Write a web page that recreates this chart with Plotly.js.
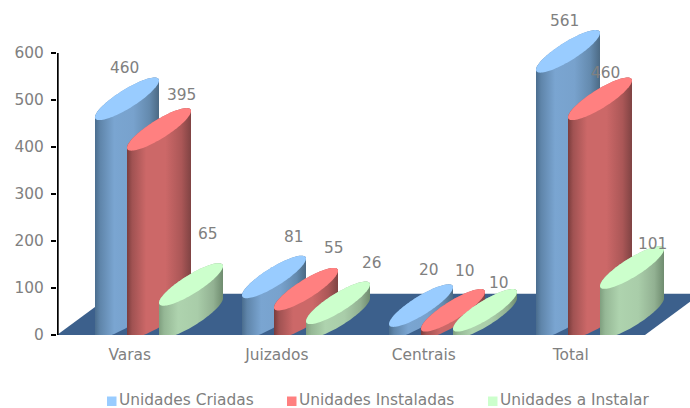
<!DOCTYPE html>
<html><head><meta charset="utf-8">
<script src="https://cdn.plot.ly/plotly-3.0.1.min.js"></script>
<style>html,body{margin:0;padding:0;background:#fff}#c{width:690px;height:408px}</style>
</head><body><div id="c"></div>
<script>
// Data
const categories = ['Varas','Juizados','Centrais','Total'];
const seriesNames = ['Unidades Criadas','Unidades Instaladas','Unidades a Instalar'];
const criadas = [460,81,20,561];
const instaladas = [395,55,10,460];
const aInstalar = [65,26,10,101];
const yTicks = [0,100,200,300,400,500,600];

// Styles
const topColors = ['#99ccff','#ff8080','#ccffcc'];
const bodyScales = [
 [[0,'#4a6d8e'],[.08,'#5f85aa'],[.3,'#7aa5d1'],[.6,'#78a2cd'],[.85,'#648aae'],[1,'#4c6a84']],
 [[0,'#7a3c3c'],[.08,'#a05252'],[.3,'#cc6868'],[.6,'#cc6868'],[.85,'#ab5757'],[1,'#7f4343']],
 [[0,'#7f9f7f'],[.08,'#95b795'],[.3,'#aed3ae'],[.6,'#a9cda9'],[.85,'#92b192'],[1,'#6f8c6f']]
];
const floorColor = '#3c608c', textColor = '#808080';
const fontFamily = '"DejaVu Sans", sans-serif';
const fontSize = 15.4;

// Geometry in axis units (147 px per category, 0.47 px per value unit)
const L=57, T=0, PW=633, PH=335;
const xMax = PW/147, yMax = PH/0.47;
const barW = 64/147, barStep = 32/147, groupStart = 38/147;
const rise = 39, minor = 23, topLift = 42.5, baseLift = 39, floorDepth = 88, floorShift = 56/147;

function edge(cx, cy, sign, leftToRight){
  const pts=[], N=48;
  for(let i=0;i<=N;i++){
    const t=(leftToRight? Math.PI*(1-i/N) : Math.PI*i/N);
    pts.push([cx+barW/2*Math.cos(t), cy+rise*Math.cos(t)+sign*minor*Math.sin(t)]);
  }
  return pts;
}
const traces=[];
traces.push({type:'scatter',mode:'none',fill:'toself',fillcolor:floorColor,hoverinfo:'skip',showlegend:false,
  x:[0,floorShift,categories.length+floorShift,categories.length,0],y:[0,floorDepth,floorDepth,0,0]});

const series=[criadas,instaladas,aInstalar];
categories.forEach((c,ci)=>{
  series.forEach((vals,si)=>{
    const v=vals[ci];
    const x0=ci+groupStart+si*barStep, cx=x0+barW/2;
    const cyTop=v+topLift, cyBot=baseLift;
    const poly=edge(cx,cyBot,-1,true).concat(edge(cx,cyTop,1,false));
    poly.push(poly[0]);
    traces.push({type:'scatter',mode:'none',fill:'toself',hoverinfo:'skip',showlegend:false,
      x:poly.map(p=>p[0]),y:poly.map(p=>p[1]),
      fillgradient:{type:'horizontal',colorscale:bodyScales[si],start:x0,stop:x0+barW}});
    const top=edge(cx,cyTop,1,true).concat(edge(cx,cyTop,-1,false));
    top.push(top[0]);
    traces.push({type:'scatter',mode:'none',fill:'toself',fillcolor:topColors[si],hoverinfo:'skip',showlegend:false,
      x:top.map(p=>p[0]),y:top.map(p=>p[1])});
  });
});

// Label offsets from each cylinder's left edge / value, in px
const labelDx=[[29,52,40,28],[54,60,44,37],[49,66,46,52]];
const labelDy=[[51,60,56,50],[54,61,59,46],[70,60,47,44]];
const annotations=[];
series.forEach((vals,si)=>vals.forEach((v,ci)=>{
  annotations.push({xref:'x',yref:'y',x:ci+groupStart+si*barStep,y:v,text:String(v),showarrow:false,
    xanchor:'center',yanchor:'middle',xshift:labelDx[si][ci],yshift:labelDy[si][ci],
    font:{family:fontFamily,size:fontSize,color:textColor}});
}));
const legendPx=[107,287,488];
const shapes=[{type:'line',xref:'x',yref:'y',x0:0.7/147,x1:0.7/147,y0:0,y1:600,line:{color:'#000',width:2},layer:'above'}];
seriesNames.forEach((n,i)=>{
  annotations.push({xref:'paper',yref:'paper',x:(legendPx[i]+10-L)/PW,y:(PH-400)/PH,text:n,showarrow:false,
    xanchor:'left',yanchor:'middle',font:{family:fontFamily,size:fontSize,color:textColor}});
  shapes.push({type:'rect',xref:'paper',yref:'paper',x0:(legendPx[i]-L)/PW,x1:(legendPx[i]+9.5-L)/PW,
    y0:(PH-406)/PH,y1:(PH-396.5)/PH,fillcolor:topColors[i],line:{width:0}});
});

Plotly.newPlot('c',traces,{
  width:690,height:408,autosize:false,showlegend:false,
  margin:{l:L,r:690-L-PW,t:T,b:408-PH,pad:0},
  paper_bgcolor:'#fff',plot_bgcolor:'#fff',hovermode:false,
  font:{family:fontFamily,size:fontSize,color:textColor},
  xaxis:{range:[0,xMax],tickmode:'array',tickvals:categories.map((c,i)=>i+.495),ticktext:categories,
    showgrid:false,zeroline:false,showline:false,ticks:'outside',ticklen:6,tickcolor:'rgba(0,0,0,0)',
    tickfont:{family:fontFamily,size:fontSize,color:textColor}},
  yaxis:{range:[0,yMax],tickmode:'array',tickvals:yTicks,ticktext:yTicks.map(String),
    showgrid:false,zeroline:false,showline:false,ticks:'outside',ticklen:5,tickwidth:1.5,tickcolor:'#000',
    ticklabelstandoff:4,
    tickfont:{family:fontFamily,size:fontSize,color:textColor}},
  annotations,shapes
},{displayModeBar:false,staticPlot:true});
</script></body></html>
